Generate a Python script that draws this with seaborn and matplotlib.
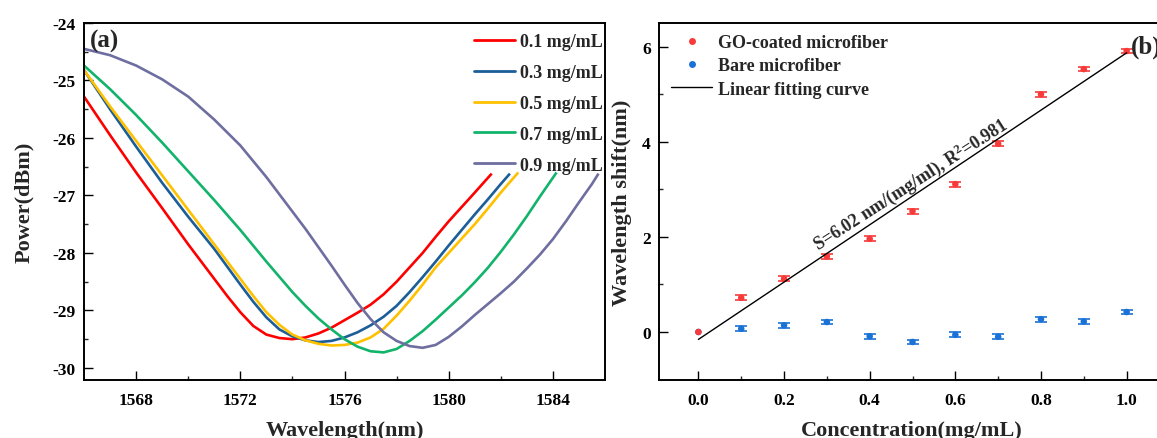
import numpy as np
import pandas as pd
import matplotlib
matplotlib.use("Agg")
import matplotlib.pyplot as plt
from matplotlib.lines import Line2D
import seaborn as sns

# ---------------- data: panel (a) ----------------
conc_labels = ["0.1 mg/mL", "0.3 mg/mL", "0.5 mg/mL", "0.7 mg/mL", "0.9 mg/mL"]

wl_01 = [1566, 1567, 1568, 1569, 1570, 1571, 1571.5, 1572, 1572.5, 1573, 1573.5, 1574, 1574.5, 1575,
         1575.5, 1576, 1576.5, 1577, 1577.5, 1578, 1578.5, 1579, 1579.5, 1580, 1580.5, 1581, 1581.65]
p_01 = [-25.28, -25.95, -26.6, -27.22, -27.85, -28.45, -28.75, -29.03, -29.27, -29.42, -29.48, -29.5, -29.47,
        -29.4, -29.3, -29.17, -29.04, -28.9, -28.72, -28.5, -28.25, -28.0, -27.72, -27.45, -27.2, -26.95, -26.62]

wl_03 = [1566, 1567, 1568, 1569, 1570, 1571, 1572, 1572.5, 1573, 1573.5, 1574, 1574.5, 1575, 1575.5, 1576,
         1576.5, 1577, 1577.5, 1578, 1578.5, 1579, 1579.5, 1580, 1580.5, 1581, 1581.5, 1582, 1582.35]
p_03 = [-24.82, -25.5, -26.15, -26.78, -27.37, -27.93, -28.55, -28.85, -29.12, -29.33, -29.45, -29.52, -29.55,
        -29.53, -29.47, -29.38, -29.26, -29.11, -28.92, -28.68, -28.42, -28.15, -27.87, -27.6, -27.33, -27.07,
        -26.8, -26.62]

wl_05 = [1566, 1567, 1568, 1569, 1570, 1571, 1572, 1572.5, 1573, 1573.5, 1574, 1574.5, 1575, 1575.5, 1576,
         1576.5, 1577, 1577.5, 1578, 1578.5, 1579, 1579.5, 1580, 1580.5, 1581, 1581.5, 1582, 1582.67]
p_05 = [-24.82, -25.45, -26.05, -26.65, -27.25, -27.85, -28.45, -28.75, -29.03, -29.25, -29.42, -29.52, -29.58,
        -29.61, -29.6, -29.56, -29.47, -29.32, -29.09, -28.83, -28.55, -28.25, -28.0, -27.75, -27.5, -27.23,
        -26.95, -26.6]

wl_07 = [1566, 1567, 1568, 1569, 1570, 1571, 1572, 1573, 1574, 1574.5, 1575, 1575.5, 1576, 1576.5, 1577,
         1577.5, 1578, 1578.5, 1579, 1579.5, 1580, 1580.5, 1581, 1581.5, 1582, 1582.5, 1583, 1583.5, 1584.14]
p_07 = [-24.74, -25.15, -25.6, -26.08, -26.58, -27.08, -27.6, -28.15, -28.68, -28.92, -29.14, -29.33, -29.5,
        -29.63, -29.71, -29.73, -29.67, -29.53, -29.36, -29.16, -28.95, -28.74, -28.51, -28.26, -27.98, -27.68,
        -27.36, -27.02, -26.6]

wl_09 = [1566, 1567, 1568, 1569, 1570, 1571, 1572, 1573, 1574, 1574.5, 1575, 1575.5, 1576, 1576.5, 1577,
         1577.5, 1578, 1578.5, 1579, 1579.5, 1580, 1580.5, 1581, 1581.5, 1582, 1582.5, 1583, 1583.5, 1584,
         1584.5, 1585, 1585.5, 1585.75]
p_09 = [-24.45, -24.56, -24.74, -24.98, -25.28, -25.68, -26.13, -26.68, -27.28, -27.58, -27.9, -28.22, -28.55,
        -28.87, -29.15, -29.38, -29.53, -29.62, -29.65, -29.6, -29.46, -29.28, -29.08, -28.89, -28.7, -28.5,
        -28.27, -28.03, -27.76, -27.45, -27.12, -26.8, -26.62]

# ---------------- data: panel (b) ----------------
conc = [0.0, 0.1, 0.2, 0.3, 0.4, 0.5, 0.6, 0.7, 0.8, 0.9, 1.0]
go_shift = [0.0, 0.72, 1.12, 1.59, 1.96, 2.54, 3.11, 3.96, 5.0, 5.53, 5.91]
go_err = [0.0, 0.05, 0.05, 0.06, 0.05, 0.05, 0.05, 0.05, 0.05, 0.05, 0.05]
bare_shift = [0.0, 0.07, 0.14, 0.21, -0.09, -0.21, -0.06, -0.1, 0.27, 0.22, 0.42]
bare_err = [0.0, 0.05, 0.05, 0.05, 0.05, 0.05, 0.05, 0.05, 0.05, 0.05, 0.05]
series_names = ["GO-coated microfiber", "Bare microfiber", "Linear fitting curve"]
fit_text = "S=6.02 nm/(mg/ml), R$^2$=0.981"

# ---------------- style ----------------
sns.set_theme(style="ticks")
plt.rcParams["font.family"] = ["Liberation Serif", "DejaVu Serif"]
plt.rcParams["font.weight"] = "bold"
plt.rcParams["axes.labelweight"] = "bold"
plt.rcParams["mathtext.fontset"] = "custom"
plt.rcParams["mathtext.rm"] = "Liberation Serif:bold"
plt.rcParams["mathtext.it"] = "Liberation Serif:bold"
plt.rcParams["mathtext.bf"] = "Liberation Serif:bold"

W, H = 1157, 439
fig = plt.figure(figsize=(W / 100, H / 100), dpi=100)

def px_axes(l, t, r, b):
    return fig.add_axes([l / W, 1 - b / H, (r - l) / W, (b - t) / H])

ax1 = px_axes(84, 24, 605, 381)
ax2 = px_axes(659, 24, 1165, 381)

line_colors = ["#ff0000", "#1b5e98", "#ffc000", "#12b36a", "#6e6ea0"]

frames = []
for lab, wl, p in zip(conc_labels, [wl_01, wl_03, wl_05, wl_07, wl_09], [p_01, p_03, p_05, p_07, p_09]):
    frames.append(pd.DataFrame({"wl": wl, "p": p, "conc": lab}))
df_a = pd.concat(frames, ignore_index=True)

sns.lineplot(data=df_a, x="wl", y="p", hue="conc", hue_order=conc_labels,
             palette=line_colors, sort=False, estimator=None, lw=1.9, ax=ax1, legend=False)
for ln in ax1.get_lines():
    ln.set_solid_joinstyle("round")
    ln.set_solid_capstyle("butt")

ax1.set_xlim(1566, 1586)
ax1.set_ylim(-30.21, -24)
ax1.set_xticks([1568, 1572, 1576, 1580, 1584])
ax1.set_xticks([1570, 1574, 1578, 1582], minor=True)
ax1.set_yticks([-30, -29, -28, -27, -26, -25, -24])
ax1.set_yticks(np.arange(-29.5, -24, 1.0), minor=True)
ax1.set_yticklabels(["-30", "-29", "-28", "-27", "-26", "-25", "-24"])
ax1.set_xlabel("Wavelength(nm)", fontsize=16, fontweight="bold", labelpad=8)
ax1.set_ylabel("Power(dBm)", fontsize=16, fontweight="bold", labelpad=13)
ax1.text(0.011, 0.95, "(a)", transform=ax1.transAxes, fontsize=18, fontweight="bold",
         ha="left", va="center")

handles_a = [Line2D([0], [0], color=c, lw=2.0) for c in line_colors]
ax1.legend(handles_a, conc_labels, loc="upper right", bbox_to_anchor=(1.0, 0.977),
           frameon=False, handlelength=2.3, handletextpad=0.3,
           labelspacing=0.77, borderpad=0, borderaxespad=0.1,
           prop={"family": "Liberation Serif", "weight": "bold", "size": 13})

# panel (b)
df_go = pd.DataFrame({"c": conc, "s": go_shift, "name": series_names[0]})
df_bare = pd.DataFrame({"c": conc, "s": bare_shift, "name": series_names[1]})
red_c = "#f73a3a"
blue_c = "#1a72d6"
ax2.errorbar(conc[1:], bare_shift[1:], yerr=bare_err[1:], fmt="none", ecolor=blue_c,
             elinewidth=1.2, capsize=4.5, capthick=1.2, zorder=2)
ax2.errorbar(conc[1:], go_shift[1:], yerr=go_err[1:], fmt="none", ecolor=red_c,
             elinewidth=1.2, capsize=4.5, capthick=1.2, zorder=2)
sns.scatterplot(data=df_bare, x="c", y="s", color=blue_c, s=22, edgecolor="none", ax=ax2,
                zorder=3, legend=False)
sns.scatterplot(data=df_go, x="c", y="s", color=red_c, s=22, edgecolor="none", ax=ax2,
                zorder=3, legend=False)

slope, intercept = np.polyfit(conc, go_shift, 1)
xf = np.array([conc[0], conc[-1]])
df_fit = pd.DataFrame({"c": xf, "s": slope * xf + intercept})
sns.lineplot(data=df_fit, x="c", y="s", color="black", lw=1.0, ax=ax2, zorder=4)

ax2.text(0.278, 1.72, fit_text, rotation=32.8, rotation_mode="anchor", ha="left", va="baseline",
         fontsize=13, fontweight="bold")
ax2.text(1.01, 6.02, "(b)", fontsize=18, fontweight="bold", ha="left", va="center")

ax2.set_xlim(-0.092, 1.0896)
ax2.set_ylim(-1.01, 6.5)
ax2.set_xticks([0.0, 0.2, 0.4, 0.6, 0.8, 1.0])
ax2.set_xticklabels(["0.0", "0.2", "0.4", "0.6", "0.8", "1.0"])
ax2.set_xticks([0.1, 0.3, 0.5, 0.7, 0.9], minor=True)
ax2.set_yticks([0, 2, 4, 6])
ax2.set_yticks([1, 3, 5], minor=True)
ax2.set_xlabel("Concentration(mg/mL)", fontsize=16, fontweight="bold", labelpad=8)
ax2.set_ylabel("Wavelength shift(nm)", fontsize=16, fontweight="bold", labelpad=7)

handles_b = [
    Line2D([0], [0], marker="o", color="none", markerfacecolor=red_c, markeredgecolor="none", markersize=5),
    Line2D([0], [0], marker="o", color="none", markerfacecolor=blue_c, markeredgecolor="none", markersize=5),
    Line2D([0], [0], color="black", lw=1.0),
]
ax2.legend(handles_b, series_names, loc="upper left", bbox_to_anchor=(0.02, 0.974),
           frameon=False, handlelength=2.3, handletextpad=0.3, labelspacing=0.35,
           borderpad=0, borderaxespad=0.1,
           prop={"family": "Liberation Serif", "weight": "bold", "size": 13})

for ax in (ax1, ax2):
    for s in ax.spines.values():
        s.set_linewidth(1.4)
        s.set_color("black")
    ax.tick_params(which="major", direction="in", length=6.5, width=1.0, labelsize=12.5,
                   pad=9, colors="black")
    ax.tick_params(which="minor", direction="in", length=3.0, width=1.0)
    ax.tick_params(axis="y", which="major", pad=6)
    for lbl in ax.get_xticklabels() + ax.get_yticklabels():
        lbl.set_fontweight("bold")
    ax.set_facecolor("white")

fig.savefig("out.png", dpi=100, facecolor="white")
